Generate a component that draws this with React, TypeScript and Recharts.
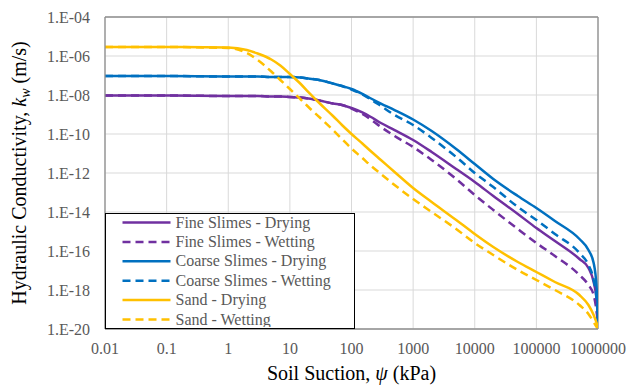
import {
  LineChart,
  Line,
  XAxis,
  YAxis,
  CartesianGrid,
  ReferenceLine,
  Legend,
} from 'recharts'

// Soil suction (kPa), shared by all six curves
const SUCTION = [
  0.01, 0.1, 1, 2, 3, 5, 7, 10, 15, 20, 30, 50, 70, 100, 150, 200, 300, 500, 1000, 2000, 5000,
  10000, 20000, 50000, 100000, 200000, 500000, 700000, 850000, 950000, 990000, 1000000,
]

// Hydraulic conductivity k_w (m/s)
const FINE_DRY = [
  9.43e-9, 9.43e-9, 8.89e-9, 8.89e-9, 8.89e-9, 8.38e-9, 8.38e-9, 7.9e-9, 7.44e-9, 6.61e-9,
  5.22e-9, 3.66e-9, 3.07e-9, 2.15e-9, 1.27e-9, 7.9e-10, 3.66e-10, 1.6e-10, 4.92e-11, 1.19e-11,
  1.6e-12, 3.46e-13, 6.61e-14, 7.9e-15, 1.51e-15, 3.26e-16, 3.89e-17, 1.34e-17, 2.57e-18,
  3.07e-19, 3.66e-20, 1.0e-20,
]
const FINE_WET = [
  9.43e-9, 9.43e-9, 8.89e-9, 8.89e-9, 8.89e-9, 8.38e-9, 8.38e-9, 7.9e-9, 7.44e-9, 6.61e-9,
  5.22e-9, 3.66e-9, 3.07e-9, 2.03e-9, 1.06e-9, 5.88e-10, 2.29e-10, 7.9e-11, 2.15e-11, 4.64e-12,
  4.92e-13, 7.44e-14, 1.27e-14, 1.34e-15, 2.57e-16, 5.54e-17, 5.88e-18, 1.8e-18, 5.54e-19,
  7.44e-20, 2.03e-20, 1.0e-20,
]
const COARSE_DRY = [
  9.43e-8, 9.43e-8, 8.89e-8, 8.89e-8, 8.89e-8, 8.38e-8, 8.38e-8, 8.38e-8, 7.9e-8, 7.02e-8,
  5.88e-8, 3.89e-8, 2.89e-8, 2.03e-8, 1.13e-8, 7.02e-9, 3.66e-9, 1.7e-9, 5.54e-10, 1.42e-10,
  1.7e-11, 2.89e-12, 4.92e-13, 6.61e-14, 1.6e-14, 3.46e-15, 4.12e-16, 1.13e-16, 2.42e-17,
  1.27e-18, 9.43e-20, 1.0e-20,
]
const COARSE_WET = [
  9.43e-8, 9.43e-8, 8.89e-8, 8.89e-8, 8.89e-8, 8.38e-8, 8.38e-8, 8.38e-8, 7.9e-8, 7.02e-8,
  5.88e-8, 3.89e-8, 2.89e-8, 1.91e-8, 1.06e-8, 6.24e-9, 2.73e-9, 9.43e-10, 2.89e-10, 6.24e-11,
  6.61e-12, 1.0e-12, 1.91e-13, 1.8e-14, 3.89e-15, 7.44e-16, 7.9e-17, 1.91e-17, 3.26e-18,
  3.07e-19, 3.66e-20, 1.0e-20,
]
const SAND_DRY = [
  2.89e-6, 2.89e-6, 2.73e-6, 2.03e-6, 1.34e-6, 6.61e-7, 3.26e-7, 1.19e-7, 3.66e-8, 1.42e-8,
  3.89e-9, 8.38e-10, 2.89e-10, 1.0e-10, 3.26e-11, 1.42e-11, 4.64e-12, 1.13e-12, 1.7e-13, 3.26e-14,
  3.89e-15, 7.44e-16, 1.6e-16, 2.73e-17, 8.38e-18, 2.57e-18, 5.54e-19, 1.7e-19, 5.22e-20,
  2.03e-20, 1.27e-20, 1.0e-20,
]
const SAND_WET = [
  2.89e-6, 2.89e-6, 2.57e-6, 1.42e-6, 6.24e-7, 1.6e-7, 5.88e-8, 2.03e-8, 5.88e-9, 2.42e-9,
  7.44e-10, 1.6e-10, 5.54e-11, 1.8e-11, 5.88e-12, 2.57e-12, 8.89e-13, 2.42e-13, 4.64e-14, 1.0e-14,
  1.34e-15, 2.57e-16, 6.24e-17, 1.06e-17, 3.26e-18, 1.0e-18, 1.7e-19, 5.88e-20, 2.29e-20,
  1.27e-20, 1.06e-20, 1.0e-20,
]

const X_TICKS = [0.01, 0.1, 1, 10, 100, 1000, 10000, 100000, 1000000]
const Y_TICKS = [1e-20, 1e-18, 1e-16, 1e-14, 1e-12, 1e-10, 1e-8, 1e-6, 1e-4]

const PURPLE = '#7030A0'
const BLUE   = '#0070C0'
const GOLD   = '#FFC000'
const DASH   = '8 5'
const FONT   = '"Liberation Serif", "Times New Roman", serif'
const TICK_COLOR = '#595959'
const BORDER = '#8f8f8f'

const SERIES = [
  { key: 'fineDry',   name: 'Fine Slimes - Drying',    color: PURPLE, dash: undefined, values: FINE_DRY },
  { key: 'fineWet',   name: 'Fine Slimes - Wetting',   color: PURPLE, dash: DASH,      values: FINE_WET },
  { key: 'coarseDry', name: 'Coarse Slimes - Drying',  color: BLUE,   dash: undefined, values: COARSE_DRY },
  { key: 'coarseWet', name: 'Coarse Slimes - Wetting', color: BLUE,   dash: DASH,      values: COARSE_WET },
  { key: 'sandDry',   name: 'Sand - Drying',           color: GOLD,   dash: undefined, values: SAND_DRY },
  { key: 'sandWet',   name: 'Sand - Wetting',          color: GOLD,   dash: DASH,      values: SAND_WET },
]

const data = SUCTION.map((s, i) => {
  const row: Record<string, number> = { suction: s }
  SERIES.forEach(ser => { row[ser.key] = ser.values[i] })
  return row
})

const fmtK = (v: number) => `1.E-${String(Math.round(-Math.log10(v))).padStart(2, '0')}`
const fmtPsi = (v: number) => String(v)

// ── Axis titles ──────────────────────────────────────────────────────────────

// eslint-disable-next-line @typescript-eslint/no-explicit-any
function YTitle({ viewBox }: any) {
  const cy = viewBox.y + viewBox.height / 2
  const cx = 26
  return (
    <text
      x={cx} y={cy} transform={`rotate(-90, ${cx}, ${cy})`}
      textAnchor="middle" fontFamily={FONT} fontSize={20} fill="#000"
    >
      Hydraulic Conductivity, <tspan fontStyle="italic">k</tspan>
      <tspan fontStyle="italic" fontSize={14} dy={4}>w</tspan>
      <tspan dy={-4}> (m/s)</tspan>
    </text>
  )
}

// eslint-disable-next-line @typescript-eslint/no-explicit-any
function XTitle({ viewBox }: any) {
  return (
    <text
      x={viewBox.x + viewBox.width / 2} y={viewBox.y + 51}
      textAnchor="middle" fontFamily={FONT} fontSize={20} fill="#000"
    >
      Soil Suction, <tspan fontStyle="italic">ψ</tspan> (kPa)
    </text>
  )
}

// ── Legend box ───────────────────────────────────────────────────────────────

function LegendBox() {
  return (
    <div style={{
      width: 250, height: 116, boxSizing: 'border-box',
      border: '1.5px solid #000', background: '#fff',
    }}>
      <svg width={247} height={113} style={{ display: 'block' }}>
        {SERIES.map((s, i) => {
          const y = 8.5 + i * 19.4
          return (
            <g key={s.key}>
              <line x1={16.5} x2={64.5} y1={y} y2={y} stroke={s.color}
                strokeWidth={2.5} strokeDasharray={s.dash} />
              <text x={69.5} y={y + 5} fontFamily={FONT} fontSize={16} fill={TICK_COLOR}>
                {s.name}
              </text>
            </g>
          )
        })}
      </svg>
    </div>
  )
}

// ── Chart ────────────────────────────────────────────────────────────────────

export default function App() {
  return (
    <div style={{ position: 'absolute', left: 0, top: 0, background: '#fff' }}>
      <LineChart width={628} height={385} data={data}
        margin={{ top: 17, right: 30, left: 0, bottom: 0 }}>
        <CartesianGrid stroke="#d9d9d9" strokeWidth={1} />
        <XAxis
          dataKey="suction" type="number" scale="log" domain={[0.01, 1000000]}
          ticks={X_TICKS} tickFormatter={fmtPsi} allowDataOverflow
          height={56} tickLine={false} tickSize={0} tickMargin={14}
          axisLine={{ stroke: BORDER, strokeWidth: 1.3 }}
          tick={{ fill: TICK_COLOR, fontSize: 16, fontFamily: FONT }}
          label={<XTitle />}
        />
        <YAxis
          type="number" scale="log" domain={[1e-20, 1e-4]}
          ticks={Y_TICKS} tickFormatter={fmtK} allowDataOverflow
          width={105} tickLine={false} tickSize={0} tickMargin={15}
          axisLine={{ stroke: BORDER, strokeWidth: 1.3 }}
          tick={{ fill: TICK_COLOR, fontSize: 16, fontFamily: FONT }}
          label={<YTitle />}
        />
        <ReferenceLine y={1e-4} stroke={BORDER} strokeWidth={1.3} />
        <ReferenceLine x={1000000} stroke={BORDER} strokeWidth={1.3} />

        {SERIES.map(s => (
          <Line
            key={s.key} dataKey={s.key} name={s.name} type="monotone"
            stroke={s.color} strokeWidth={2.5} strokeDasharray={s.dash}
            dot={false} activeDot={false} isAnimationActive={false}
          />
        ))}

        <Legend
          layout="vertical" verticalAlign="middle" align="center"
          wrapperStyle={{ left: 105, top: 213, width: 250, height: 116 }}
          content={() => <LegendBox />}
        />
      </LineChart>
    </div>
  )
}
